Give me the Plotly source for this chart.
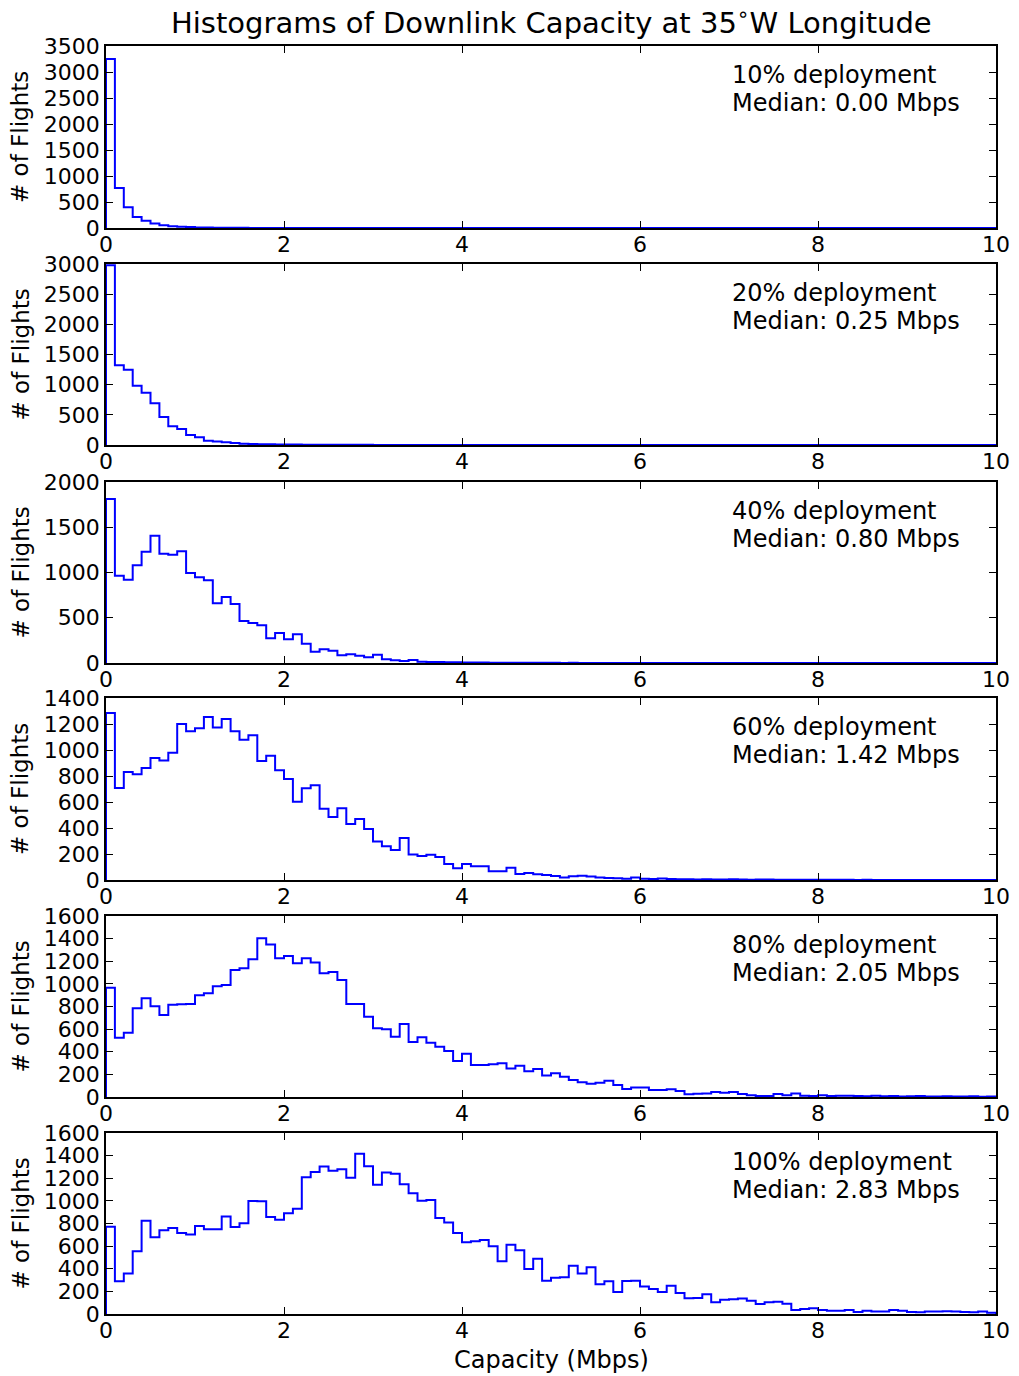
import numpy as np
import plotly.graph_objects as go

# ---------------- data ----------------
bin_edges = np.linspace(0, 10, 101)

labels = ["10% deployment", "20% deployment", "40% deployment",
          "60% deployment", "80% deployment", "100% deployment"]
medians = ["0.00", "0.25", "0.80", "1.42", "2.05", "2.83"]

counts_10 = [3250, 770, 400, 210, 140, 85, 55, 35, 25, 18,
             12, 9, 7, 5, 4, 3, 2, 2, 1, 1,
             0, 0, 0, 0, 0, 0, 0, 0, 0, 0,
             0, 0, 0, 0, 0, 0, 0, 0, 0, 0,
             0, 0, 0, 0, 0, 0, 0, 0, 0, 0,
             0, 0, 0, 0, 0, 0, 0, 0, 0, 0,
             0, 0, 0, 0, 0, 0, 0, 0, 0, 0,
             0, 0, 0, 0, 0, 0, 0, 0, 0, 0,
             0, 0, 0, 0, 0, 0, 0, 0, 0, 0,
             0, 0, 0, 0, 0, 0, 0, 0, 0, 0]

counts_20 = [2980, 1321, 1249, 983, 867, 691, 464, 310, 265, 166,
             128, 72, 56, 45, 33, 22, 16, 13, 11, 9,
             8, 7, 6, 5, 5, 4, 4, 3, 3, 3,
             2, 2, 2, 2, 1, 1, 1, 1, 1, 1,
             0, 0, 0, 0, 0, 0, 0, 0, 0, 0,
             0, 0, 0, 0, 0, 0, 0, 0, 0, 0,
             0, 0, 0, 0, 0, 0, 0, 0, 0, 0,
             0, 0, 0, 0, 0, 0, 0, 0, 0, 0,
             0, 0, 0, 0, 0, 0, 0, 0, 0, 0,
             0, 0, 0, 0, 0, 0, 0, 0, 0, 0]

counts_40 = [1812, 965, 921, 1080, 1230, 1407, 1208, 1197, 1234, 994,
             947, 914, 660, 729, 652, 464, 442, 416, 273, 331,
             262, 317, 213, 125, 151, 136, 85, 96, 81, 63,
             92, 41, 30, 22, 33, 13, 12, 10, 8, 9,
             6, 5, 6, 4, 3, 4, 3, 2, 3, 2,
             2, 1, 2, 1, 1, 1, 0, 1, 0, 0,
             0, 0, 0, 0, 0, 0, 0, 0, 0, 0,
             0, 0, 0, 0, 0, 0, 0, 0, 0, 0,
             0, 0, 0, 0, 0, 0, 0, 0, 0, 0,
             0, 0, 0, 0, 0, 0, 0, 0, 0, 0]

counts_60 = [1285, 708, 831, 813, 862, 938, 920, 979, 1200, 1144,
             1167, 1254, 1174, 1238, 1144, 1079, 1113, 915, 956, 844,
             777, 602, 705, 728, 548, 484, 551, 431, 469, 392,
             297, 259, 231, 323, 197, 185, 195, 177, 123, 90,
             123, 105, 105, 67, 67, 95, 46, 54, 45, 38,
             30, 20, 28, 32, 26, 20, 15, 14, 10, 20,
             10, 8, 12, 8, 5, 5, 4, 6, 3, 4,
             5, 3, 2, 3, 4, 2, 2, 1, 2, 1,
             1, 2, 1, 1, 0, 1, 0, 0, 0, 0,
             0, 0, 0, 0, 0, 0, 0, 0, 0, 0]

counts_80 = [966, 524, 569, 784, 873, 802, 725, 816, 820, 822,
             899, 917, 979, 990, 1123, 1138, 1217, 1403, 1347, 1226,
             1247, 1182, 1226, 1188, 1094, 1105, 1034, 822, 822, 710,
             607, 599, 533, 645, 486, 528, 480, 445, 407, 318,
             383, 283, 283, 290, 298, 253, 277, 227, 248, 189,
             209, 180, 150, 130, 118, 127, 144, 106, 71, 83,
             85, 62, 62, 68, 53, 24, 29, 32, 44, 38,
             44, 27, 15, 9, 9, 27, 15, 32, 12, 9,
             15, 8, 10, 12, 8, 6, 10, 7, 8, 5,
             6, 8, 5, 4, 6, 5, 4, 6, 3, 5]

counts_100 = [772, 289, 357, 554, 825, 678, 740, 760, 716, 702,
              778, 749, 749, 861, 769, 802, 999, 996, 858, 834,
              890, 931, 1208, 1255, 1303, 1267, 1279, 1205, 1417, 1306,
              1143, 1250, 1240, 1146, 1067, 1002, 1008, 849, 808, 716,
              634, 643, 654, 598, 466, 613, 563, 398, 489, 295,
              321, 324, 427, 357, 413, 262, 289, 194, 292, 295,
              242, 221, 194, 250, 186, 139, 141, 174, 103, 127,
              130, 136, 118, 88, 103, 109, 91, 35, 44, 50,
              35, 29, 29, 35, 18, 29, 21, 21, 35, 29,
              18, 15, 21, 21, 24, 21, 18, 15, 21, 12]

all_counts = [counts_10, counts_20, counts_40, counts_60, counts_80, counts_100]

y_max = [3500, 3000, 2000, 1400, 1600, 1600]
y_step = [500, 500, 500, 200, 200, 200]
x_ticks = [0, 2, 4, 6, 8, 10]

# ---------------- layout geometry ----------------
W, H = 1019, 1376
x_left, x_right = 106, 996
panel_px = [(46, 228), (264, 445), (482, 663), (698, 880), (916, 1097), (1133, 1314)]

FONT = "DejaVu Sans"
fig = go.Figure()

annotations = []
for i, counts in enumerate(all_counts):
    n = i + 1
    xa = "x" if n == 1 else f"x{n}"
    ya = "y" if n == 1 else f"y{n}"
    xs = [bin_edges[0]] + list(bin_edges[:-1]) + [bin_edges[-1]]
    ys = [0] + list(counts) + [0]
    fig.add_trace(go.Scatter(
        x=xs, y=ys, mode="lines", line=dict(color="#0000ff", width=2, shape="hv"),
        xaxis=xa, yaxis=ya, showlegend=False, hoverinfo="skip"))

    top, bot = panel_px[i]
    ydom = [1 - bot / H, 1 - top / H]
    axis_common = dict(showline=True, linecolor="black", linewidth=1.5, mirror="ticks",
                       ticks="inside", ticklen=7, tickwidth=1, tickcolor="black",
                       showgrid=False, zeroline=False, automargin=False,
                       tickfont=dict(family=FONT, size=22, color="black"))
    xkey = "xaxis" if n == 1 else f"xaxis{n}"
    ykey = "yaxis" if n == 1 else f"yaxis{n}"
    fig.layout[xkey] = dict(domain=[x_left / W, x_right / W], range=[0, 10],
                            anchor=ya, tickmode="array", tickvals=x_ticks,
                            ticktext=[str(t) for t in x_ticks], ticklabelstandoff=-4,
                            **axis_common)
    yt = list(range(0, y_max[i] + 1, y_step[i]))
    fig.layout[ykey] = dict(domain=ydom, range=[0, y_max[i]], anchor=xa,
                            tickmode="array", tickvals=yt, ticktext=[str(t) for t in yt],
                            **axis_common)

    ax_x = (730 - x_left) / (x_right - x_left)
    annotations.append(dict(
        xref=f"{xa} domain", yref=f"{ya} domain", x=ax_x, y=1,
        xanchor="left", yanchor="middle", yshift=-29, align="left", showarrow=False,
        text=labels[i], font=dict(family=FONT, size=24, color="black")))
    annotations.append(dict(
        xref=f"{xa} domain", yref=f"{ya} domain", x=ax_x, y=1,
        xanchor="left", yanchor="middle", yshift=-57, align="left", showarrow=False,
        text=f"Median: {medians[i]} Mbps", font=dict(family=FONT, size=24, color="black")))
    annotations.append(dict(
        xref="paper", yref="paper", x=20 / W, y=1 - (top + bot) / 2 / H,
        xanchor="center", yanchor="middle", textangle=-90, showarrow=False,
        text="# of Flights", font=dict(family=FONT, size=23, color="black")))

annotations.append(dict(
    xref="paper", yref="paper", x=(x_left + x_right) / 2 / W, y=1 - 1360 / H,
    xanchor="center", yanchor="middle", showarrow=False,
    text="Capacity (Mbps)", font=dict(family=FONT, size=24, color="black")))
annotations.append(dict(
    xref="paper", yref="paper", x=(x_left + x_right) / 2 / W, y=1 - 21 / H,
    xanchor="center", yanchor="middle", showarrow=False,
    text="Histograms of Downlink Capacity at 35<sup>∘</sup>W Longitude",
    font=dict(family=FONT, size=29, color="black")))

fig.update_layout(width=W, height=H, margin=dict(l=0, r=0, t=0, b=0, pad=0, autoexpand=False),
                  template="none",
                  paper_bgcolor="white", plot_bgcolor="white",
                  annotations=annotations, font=dict(family=FONT))

fig.write_html("out.html", config={"displayModeBar": False},
               post_script="document.body.style.margin='0';")
